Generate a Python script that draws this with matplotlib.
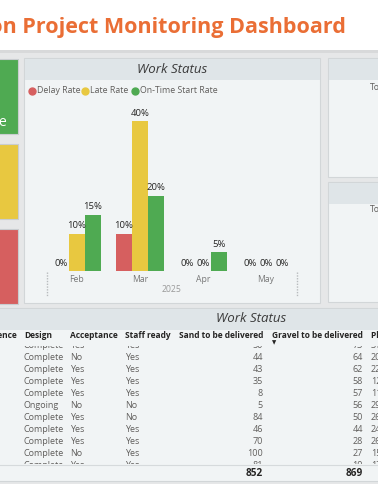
import matplotlib.pyplot as plt
from matplotlib.patches import Rectangle

# chart data
months = ["Feb", "Mar", "Apr", "May"]
delay_rate = [0, 10, 0, 0]
late_rate = [10, 40, 0, 0]
ontime_rate = [15, 20, 5, 0]
series_names = ["Delay Rate", "Late Rate", "On-Time Start Rate"]
series_colors = ["#D65F5F", "#E8C840", "#4FAA52"]

# table data
table_cols = ["Sequence", "Design", "Acceptance", "Staff ready",
              "Sand to be delivered", "Gravel to be delivered", "Plywood to be delivered"]
design = ["Complete", "Complete", "Complete", "Complete", "Complete", "Ongoing",
          "Complete", "Complete", "Complete", "Complete", "Complete"]
acceptance = ["Yes", "No", "Yes", "Yes", "Yes", "No", "Yes", "Yes", "Yes", "No", "Yes"]
staff_ready = ["Yes", "Yes", "Yes", "Yes", "Yes", "No", "No", "Yes", "Yes", "Yes", "Yes"]
sand = [50, 44, 43, 35, 8, 5, 84, 46, 70, 100, 81]
gravel = [73, 64, 62, 58, 57, 56, 50, 44, 28, 27, 19]
plywood = [31, 20, 22, 12, 11, 29, 26, 24, 26, 15, 17]
sand_total = 852
gravel_total = 869

W, H = 378, 484
FONT = ["Open Sans", "DejaVu Sans"]
plt.rcParams['font.family'] = FONT

fig = plt.figure(figsize=(W / 100, H / 100), dpi=100)
fig.patch.set_facecolor("white")

# background layer in pixel coords
bg = fig.add_axes([0, 0, 1, 1])
bg.set_xlim(0, W)
bg.set_ylim(H, 0)
bg.axis("off")

def box(x0, y0, x1, y1, fc, ec="none", lw=0.8, z=1):
    bg.add_patch(Rectangle((x0, y0), x1 - x0, y1 - y0, fc=fc, ec=ec, lw=lw, zorder=z))

PAGE = "#E6E7E8"
BODY = "#F1F4F5"
HEAD = "#DFE5E8"
EDGE = "#D2D6D8"

box(0, 50, W, H, PAGE, z=0)
box(0, 50, W, 53, "#D8D9DA", z=0.5)

bg.text(346, 28, "Construction Project Monitoring Dashboard", ha="right", va="center",
        fontsize=15.5, fontweight="bold", color="#EA6E35")

# KPI cards on the left
box(-2, 59, 18, 134, series_colors[2], ec="#C9CDD0")
box(-2, 144, 18, 219, series_colors[1], ec="#C9CDD0")
box(-2, 229, 18, 304, series_colors[0], ec="#C9CDD0")
card_txt = bg.text(6.5, 122, "On-Time Start Rate", ha="right", va="center",
                   fontsize=10, color="white")
card_txt.set_clip_path(Rectangle((-2, 59), 20, 75, transform=bg.transData))

# middle chart panel
box(24, 58, 320, 303, BODY, ec=EDGE)
box(24.5, 58.5, 319.5, 80, HEAD, z=1.5)
bg.text(172, 69.5, "Work Status", ha="center", va="center", fontsize=9.5,
        style="italic", color="#3A3A3A", zorder=3)

# legend
lx = [32, 85, 135]
for x, name, c in zip(lx, series_names, series_colors):
    bg.plot(x, 90.5, "o", ms=5, color=c, zorder=3)
    bg.text(x + 4.8, 90.5, name, ha="left", va="center", fontsize=6.3,
            color="#605E5C", zorder=3)

for x in (47, 297):
    bg.plot([x, x], [272, 297], ls=(0, (1, 1)), lw=1.0, color="#B8BBBD", zorder=3)

# right panels
box(328, 58, W + 2, 177, BODY, ec=EDGE)
box(328.5, 58.5, W + 2, 80, HEAD, z=1.5)
bg.text(370, 87, "Total", ha="left", va="center", fontsize=6.3, color="#605E5C",
        zorder=3, clip_on=True)
box(328, 182, W + 2, 302, BODY, ec=EDGE)
box(328.5, 182.5, W + 2, 204, HEAD, z=1.5)
bg.text(370, 210, "Total", ha="left", va="center", fontsize=6.3, color="#605E5C",
        zorder=3, clip_on=True)

# table panel
box(-2, 308, W + 2, 481, BODY, ec=EDGE)
box(-2, 308.5, W + 2, 330, HEAD, z=1.5)
bg.text(251, 319, "Work Status", ha="center", va="center", fontsize=9.5,
        style="italic", color="#3A3A3A", zorder=3)

# bar chart axes, aligned to panel pixels
gap = 63.0
px_per_pct = 3.75
x_left, x_right, y_base, y_top = 47, 297, 271, 97
ax = fig.add_axes([x_left / W, 1 - y_base / H, (x_right - x_left) / W, (y_base - y_top) / H])
ax.set_facecolor("none")
ax.set_xlim((x_left - 77) / gap, (x_right - 77) / gap)
ax.set_ylim(0, (y_base - y_top) / px_per_pct)
bw = 16 / gap
idx = list(range(len(months)))
for k, (vals, c) in enumerate(zip([delay_rate, late_rate, ontime_rate], series_colors)):
    xs = [i + (k - 1) * bw for i in idx]
    ax.bar(xs, vals, width=bw, color=c, edgecolor="none")
    for x, v in zip(xs, vals):
        ax.annotate(f"{v}%", (x, v), xytext=(0, 8), textcoords="offset pixels",
                    ha="center", va="center", fontsize=6.8, color="#252423")
ax.set_xticks(idx)
ax.set_xticklabels(months, fontsize=6.2, color="#777777")
ax.tick_params(axis="x", length=0, pad=3)
ax.set_yticks([])
for s in ax.spines.values():
    s.set_visible(False)
ax.text(0.5, -0.105, "2025", transform=ax.transAxes, ha="center", va="center",
        fontsize=6.2, color="#999999")

# table header
hdr_y = 336
col_x = [17, 24, 70, 125, 263, 363, 371]
col_ha = ["right", "left", "left", "left", "right", "right", "left"]
for name, x, ha in zip(table_cols, col_x, col_ha):
    bg.text(x, hdr_y, name, ha=ha, va="center", fontsize=6.05, fontweight="bold",
            color="#252423", zorder=3, clip_on=True)
bg.text(273.7, 343, "\u25bc", ha="center", va="center", fontsize=4, color="#252423", zorder=3)

# table body, clipped between header and totals
tb = fig.add_axes([0, 1 - 464 / H, 1, (464 - 345.5) / H])
tb.set_xlim(0, W)
tb.set_ylim(464, 345.5)
tb.axis("off")
row0, row_h = 345.3, 12.05
for i in range(len(design)):
    y = row0 + i * row_h
    cells = [design[i], acceptance[i], staff_ready[i], str(sand[i]), str(gravel[i]), str(plywood[i])]
    for txt, x, ha in zip(cells, col_x[1:], col_ha[1:]):
        tb.text(x, y, txt, ha=ha, va="center", fontsize=6.5, color="#605E5C", clip_on=True)

bg.plot([-2, W + 2], [464.5, 464.5], color="#D6DADC", lw=0.8, zorder=3)
bg.text(263, 473, str(sand_total), ha="right", va="center", fontsize=7.2,
        fontweight="bold", color="#252423", zorder=3)
bg.text(363, 473, str(gravel_total), ha="right", va="center", fontsize=7.2,
        fontweight="bold", color="#252423", zorder=3)

fig.savefig("out.png", dpi=100, facecolor=fig.get_facecolor())
